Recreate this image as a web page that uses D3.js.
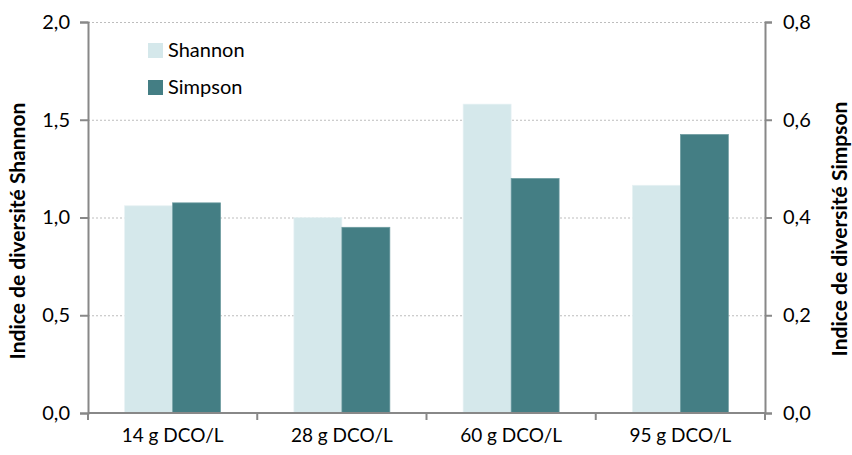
<!DOCTYPE html>
<html>
<head>
<meta charset="utf-8">
<script src="https://cdn.jsdelivr.net/npm/d3@7"></script>
<style>
  body { margin: 0; background: white; }
  text { font-family: "Lato", "Noto Sans", sans-serif; fill: #000; }
</style>
</head>
<body>
<div id="canvas"></div>
<script>
const width = 852;
const height = 455;

// data
const categories = ["14 g DCO/L", "28 g DCO/L", "60 g DCO/L", "95 g DCO/L"];
const shannon = [1.06, 1.0, 1.58, 1.165];
const simpson = [0.43, 0.38, 0.48, 0.57];
const leftTicks = [0, 0.5, 1.0, 1.5, 2.0];
const rightTicks = [0, 0.2, 0.4, 0.6, 0.8];
const seriesNames = ["Shannon", "Simpson"];
const colors = ["#d5e8eb", "#447e84"];

const plotLeft = 88, plotRight = 765, plotTop = 22, plotBottom = 413;
const fontSize = 19;

const svg = d3.select("#canvas")
    .append("svg")
    .attr("width", width)
    .attr("height", height);

svg.append("rect")
    .attr("width", width)
    .attr("height", height)
    .attr("fill", "white");

let x = d3.scaleBand()
    .domain(categories)
    .range([plotLeft, plotRight]);

let yLeft = d3.scaleLinear().domain([0, 2]).range([plotBottom, plotTop]);
let yRight = d3.scaleLinear().domain([0, 0.8]).range([plotBottom, plotTop]);

let fmt = d => d3.format(".1f")(d).replace(".", ",");

// gridlines
svg.append("g")
    .selectAll("line")
    .data(leftTicks.filter(d => d > 0))
    .join("line")
    .attr("x1", plotLeft)
    .attr("x2", plotRight)
    .attr("y1", d => yLeft(d) + 0.5)
    .attr("y2", d => yLeft(d) + 0.5)
    .attr("stroke", "#bdbdbd")
    .attr("stroke-width", 1)
    .attr("stroke-dasharray", "2,2");

// bars
let barW = 48;
for (let i = 0; i < categories.length; i++) {
    let cx = x(categories[i]) + x.bandwidth() / 2;

    svg.append("rect")
        .attr("x", cx - barW)
        .attr("y", yLeft(shannon[i]))
        .attr("width", barW)
        .attr("height", plotBottom - yLeft(shannon[i]))
        .attr("fill", colors[0])
        .attr("stroke", "#e8f2f4")
        .attr("stroke-width", 0.7);

    svg.append("rect")
        .attr("x", cx)
        .attr("y", yRight(simpson[i]))
        .attr("width", barW)
        .attr("height", plotBottom - yRight(simpson[i]))
        .attr("fill", colors[1])
        .attr("stroke", "#6f9da2")
        .attr("stroke-width", 0.7);
}

// axes
let axisColor = "#888888";

let gl = svg.append("g")
    .attr("transform", `translate(${plotLeft},0)`)
    .call(d3.axisLeft(yLeft).tickValues(leftTicks).tickFormat(fmt).tickSize(8).tickPadding(10));

let gr = svg.append("g")
    .attr("transform", `translate(${plotRight},0)`)
    .call(d3.axisRight(yRight).tickValues(rightTicks).tickFormat(fmt).tickSize(7).tickPadding(11));

let gb = svg.append("g")
    .attr("transform", `translate(0,${plotBottom})`)
    .call(d3.axisBottom(x).tickSize(0).tickPadding(16));

// category boundary ticks on the bottom axis
gb.selectAll(".sep")
    .data(d3.range(categories.length + 1))
    .join("line")
    .attr("class", "sep")
    .attr("x1", i => plotLeft + i * x.step())
    .attr("x2", i => plotLeft + i * x.step())
    .attr("y1", 0)
    .attr("y2", 7)
    .attr("stroke", axisColor)
    .attr("stroke-width", 2);

[gl, gr, gb].forEach(g => {
    g.select(".domain").attr("stroke", axisColor).attr("stroke-width", 2);
    g.selectAll(".tick line").attr("stroke", axisColor).attr("stroke-width", 2);
    g.selectAll(".tick text").attr("font-size", fontSize).attr("font-family", "Lato, 'Noto Sans', sans-serif").attr("fill", "#000");
});
gl.selectAll(".tick text").attr("font-size", 20);
gr.selectAll(".tick text").attr("font-size", 20);
gb.select(".domain").attr("d", `M${plotLeft},0H${plotRight}`);

// axis titles
svg.append("text")
    .attr("transform", `translate(25,231) rotate(-90)`)
    .attr("text-anchor", "middle")
    .attr("font-size", 21)
    .attr("font-weight", "bold")
    .text("Indice de diversité Shannon");

svg.append("text")
    .attr("transform", `translate(847,229) rotate(-90)`)
    .attr("text-anchor", "middle")
    .attr("font-size", 21)
    .attr("font-weight", "bold")
    .text("Indice de diversité Simpson");

// legend
let legend = svg.append("g");
seriesNames.forEach((name, i) => {
    legend.append("rect")
        .attr("x", 148)
        .attr("y", 43 + i * 37)
        .attr("width", 15)
        .attr("height", 15)
        .attr("fill", colors[i]);
    legend.append("text")
        .attr("x", 168)
        .attr("y", 57 + i * 37)
        .attr("font-size", 20)
        .text(name);
});
</script>
</body>
</html>
